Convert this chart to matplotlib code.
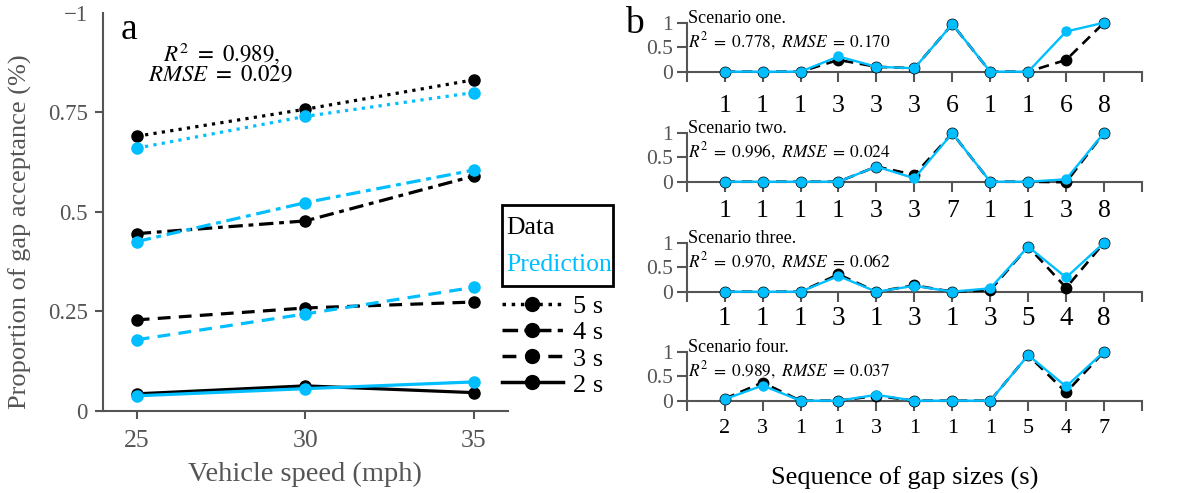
import matplotlib
matplotlib.use('Agg')
import matplotlib.pyplot as plt
from matplotlib.lines import Line2D
from matplotlib.patches import Rectangle
import numpy as np

plt.rcParams['font.family'] = ['Liberation Serif', 'DejaVu Serif']
plt.rcParams['mathtext.fontset'] = 'stix'

CYAN = '#00BEFF'
GREY = '#555555'

"""
Panel a: gap acceptance vs vehicle speed
"""
speeds = [25, 30, 35]
gap_labels = ['5 s', '4 s', '3 s', '2 s']
data_5s = [0.69, 0.758, 0.832]
pred_5s = [0.66, 0.74, 0.80]
data_4s = [0.445, 0.477, 0.59]
pred_4s = [0.425, 0.523, 0.605]
data_3s = [0.228, 0.258, 0.273]
pred_3s = [0.178, 0.243, 0.31]
data_2s = [0.042, 0.062, 0.045]
pred_2s = [0.037, 0.055, 0.072]

"""
Panel b: scenarios
"""
scenario_names = ['Scenario one.', 'Scenario two.', 'Scenario three.', 'Scenario four.']
scenario_r2 = ['0.778', '0.996', '0.970', '0.989']
scenario_rmse = ['0.170', '0.024', '0.062', '0.037']
seq_1 = [1, 1, 1, 3, 3, 3, 6, 1, 1, 6, 8]
seq_2 = [1, 1, 1, 1, 3, 3, 7, 1, 1, 3, 8]
seq_3 = [1, 1, 1, 3, 1, 3, 1, 3, 5, 4, 8]
seq_4 = [2, 3, 1, 1, 3, 1, 1, 1, 5, 4, 7]
obs_1 = [0, 0, 0, 0.24, 0.10, 0.07, 0.97, 0, 0, 0.24, 1.0]
fit_1 = [0, 0, 0, 0.31, 0.10, 0.07, 0.97, 0, 0, 0.82, 1.0]
obs_2 = [0, 0, 0, 0, 0.31, 0.14, 0.99, 0, 0, -0.01, 1.0]
fit_2 = [0, 0, 0, 0, 0.31, 0.07, 0.99, 0, 0, 0.05, 1.0]
obs_3 = [0, 0, 0, 0.355, 0, 0.13, 0, 0.03, 0.92, 0.08, 1.0]
fit_3 = [0, 0, 0, 0.32, 0, 0.12, 0, 0.07, 0.92, 0.29, 1.0]
obs_4 = [0.04, 0.37, 0, 0, 0.10, 0, 0, 0, 0.93, 0.17, 1.0]
fit_4 = [0.03, 0.31, 0, 0, 0.12, 0, 0, 0, 0.93, 0.29, 1.0]

sequences = [seq_1, seq_2, seq_3, seq_4]
observed = [obs_1, obs_2, obs_3, obs_4]
fitted = [fit_1, fit_2, fit_3, fit_4]

fig = plt.figure(figsize=(12.02, 4.93), dpi=100)

# ---- panel a ----
ax = fig.add_axes([0.0857, 0.1673, 0.3367, 0.8063])
styles = [':', (0, (4.5, 1.8, 1.5, 1.8)), (0, (4, 2.6)), '-']
data_sets = [data_5s, data_4s, data_3s, data_2s]
pred_sets = [pred_5s, pred_4s, pred_3s, pred_2s]
for ls, d, p in zip(styles, data_sets, pred_sets):
    ax.plot(speeds, d, color='k', ls=ls, lw=2.3, marker='o', ms=8, clip_on=False, zorder=3)
    ax.plot(speeds, p, color=CYAN, ls=ls, lw=2.3, marker='o', ms=8, clip_on=False, zorder=4)

ax.set_xlim(24, 36)
ax.set_ylim(0, 1)
ax.set_xticks(speeds)
ax.set_yticks([0, 0.25, 0.5, 0.75, 1])
ax.set_yticklabels(['0', '0.25', '0.5', '0.75', '\u22121'])
ax.yaxis.get_major_ticks()[-1].tick1line.set_visible(False)
for s in ['top', 'right']:
    ax.spines[s].set_visible(False)
for s in ['left', 'bottom']:
    ax.spines[s].set_color(GREY)
    ax.spines[s].set_linewidth(1.5)
ax.tick_params(axis='y', length=6, width=1.5, color=GREY, labelcolor=GREY, labelsize=16.5, pad=5)
ax.tick_params(axis='x', length=6, width=1.5, color=GREY, labelcolor=GREY, labelsize=18.5, pad=8)
ax.set_ylabel('Proportion of gap acceptance (%)', fontsize=19, color=GREY)
ax.yaxis.set_label_coords(-0.175, 0.45)
ax.set_xlabel('Vehicle speed (mph)', fontsize=20.5, color=GREY)
ax.xaxis.set_label_coords(0.5, -0.128)

fig.text(0.184, 0.892, r'$R^2\ =\ 0.989,$', fontsize=16.5, ha='center', va='center')
fig.text(0.183, 0.847, r'$RMSE\ =\ 0.029$', fontsize=16.5, ha='center', va='center')
fig.text(0.107, 0.94, 'a', fontsize=27, ha='center', va='center')

# Data / Prediction key box
fig.patches.append(Rectangle((0.4176, 0.4199), 0.0923, 0.1643, transform=fig.transFigure,
                             fill=False, edgecolor='k', linewidth=2))
fig.text(0.421, 0.5375, 'Data', fontsize=18.5, color='k', ha='left', va='center')
fig.text(0.421, 0.4625, 'Prediction', fontsize=18.5, color=CYAN, ha='left', va='center')

style_handles = [Line2D([], [], color='k', ls=ls, lw=2.5, marker='o', ms=10) for ls in styles]
fig.legend(handles=style_handles, labels=gap_labels, loc='upper left',
           bbox_to_anchor=(0.4176, 0.402), fontsize=19, frameon=False,
           handlelength=2.3, handletextpad=0.4, labelspacing=0.1, borderpad=0,
           borderaxespad=0)

# ---- panel b ----
bottoms = [0.8546, 0.6314, 0.4083, 0.1872]
xlab_pads = [10, 6.5, 3, 6]
xlab_sizes = [18.5, 18.5, 19.5, 16]
x = np.arange(1, 12)
for i in range(4):
    bx = fig.add_axes([0.5713, bottoms[i], 0.3788, 0.0994])
    bx.plot(x, observed[i], color='k', ls=(0, (4, 2.5)), lw=1.9, marker='o', ms=7.5,
            clip_on=False, zorder=3)
    bx.plot(x, fitted[i], color=CYAN, lw=1.7, marker='o', ms=6.5, clip_on=False, zorder=4)
    bx.set_xlim(0, 12)
    bx.set_ylim(0, 1)
    bx.set_xticks(range(13))
    bx.set_xticklabels([''] + [str(g) for g in sequences[i]] + [''])
    bx.set_yticks([0, 0.5, 1])
    bx.set_yticklabels(['0', '0.5', '1'])
    for s in ['top', 'right']:
        bx.spines[s].set_visible(False)
    for s in ['left', 'bottom']:
        bx.spines[s].set_color(GREY)
        bx.spines[s].set_linewidth(1.5)
    bx.tick_params(axis='x', length=7, width=1.5, color=GREY, labelcolor='k',
                   labelsize=xlab_sizes[i], pad=xlab_pads[i])
    bx.tick_params(axis='y', length=7, width=1.5, color=GREY, labelcolor=GREY,
                   labelsize=15.5, pad=3)
    bx.text(0.03, 1.09, scenario_names[i], fontsize=13, ha='left', va='center')
    bx.text(0.03, 0.63, r'$R^2\;=\;%s,\ RMSE\;=\;%s$' % (scenario_r2[i], scenario_rmse[i]),
            fontsize=12.5, ha='left', va='center')

fig.text(0.528, 0.952, 'b', fontsize=27, ha='center', va='center')
fig.text(0.753, 0.03, 'Sequence of gap sizes (s)', fontsize=19, ha='center', va='center')

fig.savefig('out.png', dpi=100)
